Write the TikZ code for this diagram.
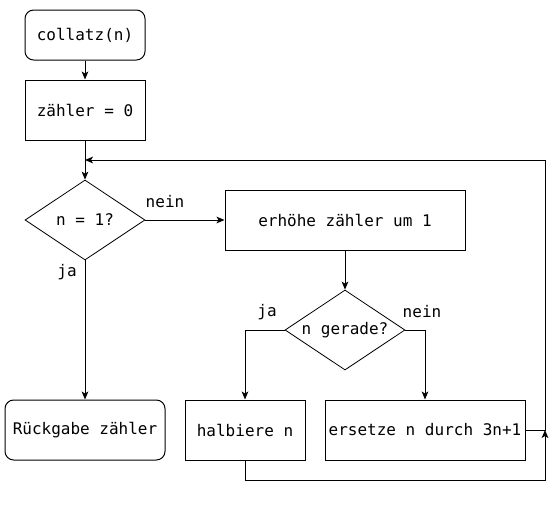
\documentclass[tikz,border=0pt]{standalone}
\usepackage{fontspec}
\setmonofont{DejaVu Sans Mono}
\usetikzlibrary{shapes.geometric,arrows.meta}
\begin{document}
\begin{tikzpicture}[x=0.75pt,y=-0.75pt,
  every node/.style={font=\ttfamily\fontsize{12}{14}\selectfont},
  box/.style={draw,line width=0.75pt,inner sep=0pt,minimum height=45pt},
  rbox/.style={box,rounded corners=6.5pt},
  dia/.style={draw,line width=0.6pt,diamond,inner sep=0pt,minimum width=90pt,minimum height=60pt},
  lbl/.style={inner sep=0pt},
  conn/.style={line width=0.75pt},
  arr/.style={conn,-{Stealth[length=6pt,width=5pt,inset=1.5pt]}}]
\useasboundingbox (0,0) rectangle (552,522);
\node[rbox,minimum width=90pt,minimum height=37.5pt] (start) at (85,35) {collatz(n)};
\node[box,minimum width=90pt] (init) at (85,110) {zähler = 0};
\node[dia] (c1) at (85,220) {\makebox[0pt]{n = 1?}};
\node[box,minimum width=180pt] (inc) at (345,220) {erhöhe zähler um 1};
\node[dia] (c2) at (345,330) {\makebox[0pt]{n gerade?}};
\node[rbox,minimum width=120pt] (ret) at (85,430) {Rückgabe zähler};
\node[box,minimum width=90pt] (half) at (245,430) {halbiere n};
\node[box,minimum width=150pt] (trip) at (425,430) {ersetze n durch 3n+1};
\coordinate (tr) at (545,430);
\coordinate (trtop) at (545,160);
\coordinate (loopin) at (85,160);
\coordinate (hb) at (245,480);
\coordinate (hbr) at (545,480);
\coordinate (c2l) at (245,330);
\coordinate (c2r) at (425,330);
\draw[arr] (start) -- (init);
\draw[arr] (init) -- (c1);
\draw[arr] (c1) -- (inc);
\draw[arr] (c1) -- (ret);
\draw[arr] (inc) -- (c2);
\draw[arr] (c2.west) -- (c2l) -- (half.north);
\draw[arr] (c2.east) -- (c2r) -- (trip.north);
\draw[arr] (trip.east) -- (tr) -- (trtop) -- (loopin);
\draw[arr] (half.south) -- (hb) -- (hbr) -- (tr);
\node[lbl] (l1) at (165,202) {nein};
\node[lbl] (l2) at (67,272) {ja};
\node[lbl] (l3) at (267,312) {ja};
\node[lbl] (l4) at (422,312) {nein};
\end{tikzpicture}
\end{document}
